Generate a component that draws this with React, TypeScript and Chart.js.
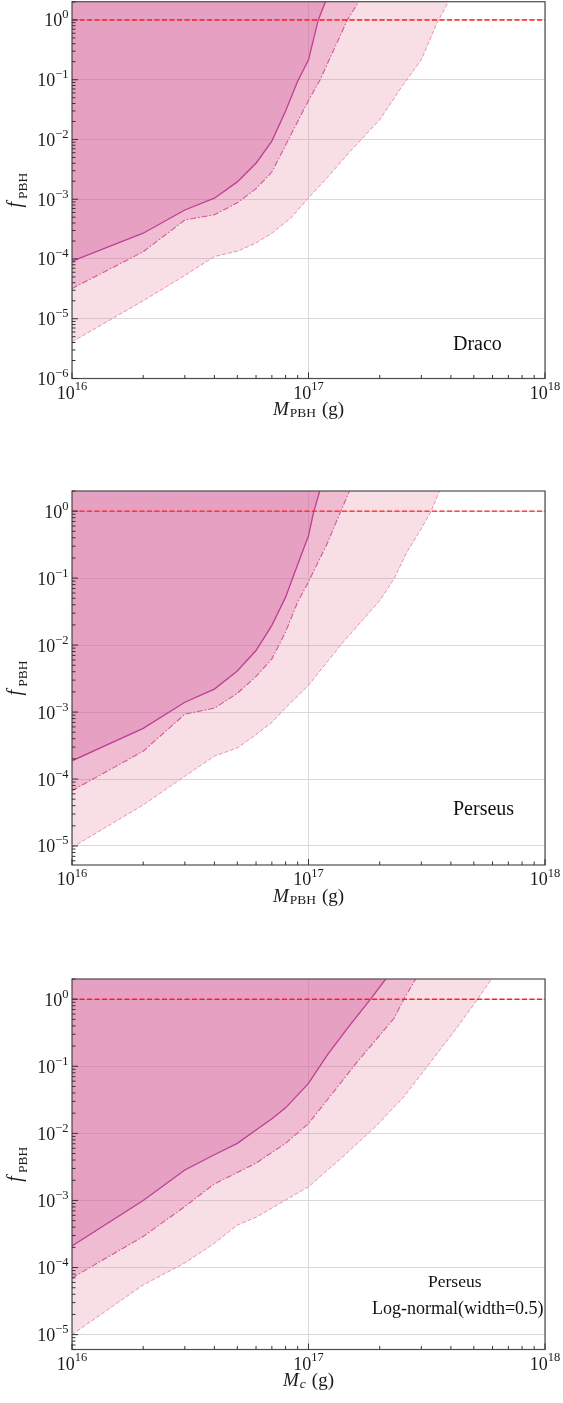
import { useEffect, useRef } from 'react';
import { Chart, registerables } from 'chart.js';

Chart.register(...registerables);

// Draco, monochromatic
const dracoSolidMass = [1e16, 2e16, 3e16, 4e16, 5e16, 6e16, 7e16, 8e16, 9e16, 1e17, 1.1e17, 1.19e17];
const dracoSolidF = [9.2e-5, 2.7e-4, 6.6e-4, 1.04e-3, 1.95e-3, 4.0e-3, 9.4e-3, 0.03, 0.094, 0.215, 1.0, 2.2];
const dracoDashDotMass = [1e16, 2e16, 3e16, 4e16, 5e16, 6e16, 7e16, 8e16, 9e16, 1e17, 1.12e17, 1.46e17, 1.64e17];
const dracoDashDotF = [3.2e-5, 1.32e-4, 4.5e-4, 5.5e-4, 8.7e-4, 1.5e-3, 2.85e-3, 8e-3, 0.02, 0.045, 0.1, 1.0, 2.1];
const dracoDashedMass = [1e16, 2e16, 3e16, 4e16, 5e16, 6e16, 7e16, 8.4e16, 1e17, 1.2e17, 1.5e17, 2e17, 2.5e17, 3e17, 3.5e17, 3.9e17];
const dracoDashedF = [4.1e-6, 2.0e-5, 5.3e-5, 1.1e-4, 1.35e-4, 1.85e-4, 2.7e-4, 4.8e-4, 1.05e-3, 2.3e-3, 6.3e-3, 0.0214, 0.08, 0.216, 0.9, 2.0];

// Perseus, monochromatic
const perseusSolidMass = [1e16, 2e16, 3e16, 4e16, 5e16, 6e16, 7e16, 8e16, 9e16, 1e17, 1.05e17, 1.12e17];
const perseusSolidF = [1.87e-4, 5.7e-4, 1.4e-3, 2.2e-3, 4.1e-3, 8.3e-3, 0.0197, 0.052, 0.16, 0.43, 0.95, 2.1];
const perseusDashDotMass = [1e16, 2e16, 3e16, 4e16, 5e16, 6e16, 7e16, 8e16, 9e16, 1e17, 1.2e17, 1.37e17, 1.49e17];
const perseusDashDotF = [6.7e-5, 2.6e-4, 9.3e-4, 1.14e-3, 1.9e-3, 3.4e-3, 6.2e-3, 0.0157, 0.044, 0.088, 0.33, 1.0, 2.0];
const perseusDashedMass = [1e16, 2e16, 3e16, 4e16, 5e16, 6e16, 7e16, 8e16, 1e17, 1.2e17, 1.4e17, 1.7e17, 2e17, 2.3e17, 2.6e17, 3e17, 3.3e17, 3.6e17];
const perseusDashedF = [9.5e-6, 4.1e-5, 1.1e-4, 2.2e-4, 2.9e-4, 4.6e-4, 7e-4, 1.15e-3, 2.5e-3, 5.6e-3, 0.011, 0.024, 0.046, 0.098, 0.24, 0.55, 1.0, 2.1];

// Perseus, log-normal mass function (width 0.5)
const lognormSolidMass = [1e16, 2e16, 3e16, 4e16, 5e16, 6e16, 7e16, 8e16, 1e17, 1.2e17, 1.46e17, 1.83e17, 2.12e17];
const lognormSolidF = [2.1e-4, 1e-3, 2.85e-3, 4.8e-3, 7.1e-3, 0.0112, 0.0165, 0.024, 0.0556, 0.147, 0.366, 1.0, 2.0];
const lognormDashDotMass = [1e16, 2e16, 3e16, 4e16, 5e16, 6e16, 8e16, 1e17, 1.28e17, 1.61e17, 1.95e17, 2.3e17, 2.53e17, 2.84e17];
const lognormDashDotF = [7e-5, 2.9e-4, 8.1e-4, 1.77e-3, 2.6e-3, 3.6e-3, 7.1e-3, 0.014, 0.042, 0.117, 0.26, 0.52, 1.0, 2.0];
const lognormDashedMass = [1e16, 2e16, 3e16, 4e16, 5e16, 6e16, 7e16, 1e17, 1.41e17, 1.95e17, 2.53e17, 3.29e17, 4.13e17, 5.19e17, 5.94e17];
const lognormDashedF = [1e-5, 5.5e-5, 1.17e-4, 2.3e-4, 4.3e-4, 5.6e-4, 7.7e-4, 1.6e-3, 4.6e-3, 0.0133, 0.035, 0.117, 0.33, 1.0, 2.0];

const unityMass = [1e16, 1e18];
const unityF = [1, 1];

const xDecades = [1e16, 1e17, 1e18];
const xExponents = ['16', '17', '18'];

const SERIF = "'Liberation Serif', 'Times New Roman', serif";

interface Note {
  text: string;
  dx: number; // from right edge of plot
  dy: number; // from bottom edge of plot
  size: number;
}

interface PanelSpec {
  top: number;
  height: number;
  pad: { top: number; bottom: number };
  yMin: number;
  yMax: number;
  yExp: number[];
  solid: [number[], number[]];
  dashDot: [number[], number[]];
  dashed: [number[], number[]];
  xSub: string;
  xSubItalic: boolean;
  notes: Note[];
}

const panels: PanelSpec[] = [
  {
    top: 0,
    height: 430,
    pad: { top: 1.7, bottom: 51.5 },
    yMin: 1e-6,
    yMax: 2.02,
    yExp: [0, -1, -2, -3, -4, -5, -6],
    solid: [dracoSolidMass, dracoSolidF],
    dashDot: [dracoDashDotMass, dracoDashDotF],
    dashed: [dracoDashedMass, dracoDashedF],
    xSub: 'PBH',
    xSubItalic: false,
    notes: [{ text: 'Draco', dx: 92, dy: 28.5, size: 20 }],
  },
  {
    top: 470,
    height: 450,
    pad: { top: 21, bottom: 55 },
    yMin: 5.2e-6,
    yMax: 2.0,
    yExp: [0, -1, -2, -3, -4, -5],
    solid: [perseusSolidMass, perseusSolidF],
    dashDot: [perseusDashDotMass, perseusDashDotF],
    dashed: [perseusDashedMass, perseusDashedF],
    xSub: 'PBH',
    xSubItalic: false,
    notes: [{ text: 'Perseus', dx: 92, dy: 50, size: 20 }],
  },
  {
    top: 960,
    height: 443,
    pad: { top: 19, bottom: 53.5 },
    yMin: 6e-6,
    yMax: 2.0,
    yExp: [0, -1, -2, -3, -4, -5],
    solid: [lognormSolidMass, lognormSolidF],
    dashDot: [lognormDashDotMass, lognormDashDotF],
    dashed: [lognormDashedMass, lognormDashedF],
    xSub: 'c',
    xSubItalic: true,
    notes: [
      { text: 'Perseus', dx: 117, dy: 63, size: 17.5 },
      { text: 'Log-normal(width=0.5)', dx: 173, dy: 35.5, size: 18 },
    ],
  },
];

const points = (mass: number[], f: number[]) => mass.map((x, i) => ({ x, y: f[i] }));

function drawPower(
  ctx: CanvasRenderingContext2D,
  exp: string,
  x: number,
  y: number,
  align: 'right' | 'center',
  raise: number,
) {
  const baseFont = `18px ${SERIF}`;
  const supFont = `12.5px ${SERIF}`;
  ctx.font = baseFont;
  const wb = ctx.measureText('10').width;
  ctx.font = supFont;
  const we = ctx.measureText(exp).width;
  const total = wb + we;
  const start = align === 'right' ? x - total : x - total / 2;
  ctx.font = baseFont;
  ctx.fillText('10', start, y);
  ctx.font = supFont;
  ctx.fillText(exp, start + wb, y - raise);
}

function makeDecor(spec: PanelSpec) {
  return {
    id: 'decor',
    afterDraw(chart: Chart) {
      const { ctx, chartArea: a } = chart;
      const xs = chart.scales.x;
      const ys = chart.scales.y;
      ctx.save();

      // frame
      ctx.strokeStyle = '#4d4d4d';
      ctx.lineWidth = 1.2;
      ctx.strokeRect(a.left, a.top, a.right - a.left, a.bottom - a.top);

      // inward ticks
      ctx.strokeStyle = '#333';
      ctx.lineWidth = 1;
      ctx.beginPath();
      const lo = Math.floor(Math.log10(spec.yMin));
      const hi = Math.ceil(Math.log10(spec.yMax));
      for (let k = lo; k <= hi; k++) {
        for (let m = 1; m <= 9; m++) {
          const v = m * Math.pow(10, k);
          if (v < spec.yMin || v > spec.yMax) continue;
          const py = ys.getPixelForValue(v);
          ctx.moveTo(a.left, py);
          ctx.lineTo(a.left + (m === 1 ? 6 : 3.5), py);
        }
      }
      for (let k = 16; k <= 18; k++) {
        for (let m = 1; m <= 9; m++) {
          const v = m * Math.pow(10, k);
          if (v > 1e18) continue;
          const px = xs.getPixelForValue(v);
          ctx.moveTo(px, a.bottom);
          ctx.lineTo(px, a.bottom - (m === 1 ? 6 : 3.5));
        }
      }
      ctx.stroke();

      // tick labels
      ctx.fillStyle = '#1a1a1a';
      ctx.textAlign = 'left';
      ctx.textBaseline = 'alphabetic';
      spec.yExp.forEach((e) => {
        const py = ys.getPixelForValue(Math.pow(10, e));
        const label = e === 0 ? '0' : `\u2212${Math.abs(e)}`;
        drawPower(ctx, label, a.left - 3.5, py + 6.5, 'right', 8);
      });
      xDecades.forEach((v, i) => {
        const px = xs.getPixelForValue(v);
        drawPower(ctx, xExponents[i], px, a.bottom + 20, 'center', 8.3);
      });

      // x title
      const mainFont = `italic 19px ${SERIF}`;
      const subFont = `${spec.xSubItalic ? 'italic ' : ''}13.5px ${SERIF}`;
      const unitFont = `19px ${SERIF}`;
      ctx.font = mainFont;
      const wM = ctx.measureText('M').width;
      ctx.font = subFont;
      const wS = ctx.measureText(spec.xSub).width;
      ctx.font = unitFont;
      const wU = ctx.measureText('(g)').width;
      const total = wM + 1 + wS + 6 + wU;
      const cx = (a.left + a.right) / 2;
      const base = a.bottom + 36.7;
      let x0 = cx - total / 2;
      ctx.font = mainFont;
      ctx.fillText('M', x0, base);
      x0 += wM + 1;
      ctx.font = subFont;
      ctx.fillText(spec.xSub, x0, base + 2);
      x0 += wS + 6;
      ctx.font = unitFont;
      ctx.fillText('(g)', x0, base);

      // y title
      const fFont = `italic 20px ${SERIF}`;
      const pFont = `13.5px ${SERIF}`;
      ctx.font = fFont;
      const wf = ctx.measureText('f').width;
      ctx.font = pFont;
      const wp = ctx.measureText('PBH').width;
      const len = wf + 3 + wp;
      ctx.save();
      ctx.translate(21, (a.top + a.bottom) / 2);
      ctx.rotate(-Math.PI / 2);
      ctx.font = fFont;
      ctx.fillText('f', -len / 2, 0);
      ctx.font = pFont;
      ctx.fillText('PBH', -len / 2 + wf + 3, 5.5);
      ctx.restore();

      // panel notes
      ctx.fillStyle = '#111';
      spec.notes.forEach((n) => {
        ctx.font = `${n.size}px ${SERIF}`;
        ctx.fillText(n.text, a.right - n.dx, a.bottom - n.dy);
      });

      ctx.restore();
    },
  };
}

function Panel({ spec }: { spec: PanelSpec }) {
  const canvasRef = useRef<HTMLCanvasElement | null>(null);

  useEffect(() => {
    if (!canvasRef.current) {
      return;
    }
    const yDecades = spec.yExp.map((e) => Math.pow(10, e));

    const chart = new Chart(canvasRef.current, {
      type: 'line',
      data: {
        datasets: [
          {
            data: points(unityMass, unityF),
            borderColor: '#ff1f1f',
            borderWidth: 1.4,
            borderDash: [5, 2.5],
            fill: false,
            pointRadius: 0,
          },
          {
            data: points(spec.solid[0], spec.solid[1]),
            borderColor: '#bf3f95',
            borderWidth: 1.3,
            backgroundColor: 'rgba(203, 95, 157, 0.3)',
            fill: 'end',
            pointRadius: 0,
          },
          {
            data: points(spec.dashDot[0], spec.dashDot[1]),
            borderColor: '#d4579b',
            borderWidth: 1.1,
            borderDash: [6, 2, 1.5, 2],
            backgroundColor: 'rgba(221, 106, 166, 0.3)',
            fill: 'end',
            pointRadius: 0,
          },
          {
            data: points(spec.dashed[0], spec.dashed[1]),
            borderColor: '#ef8fb0',
            borderWidth: 1,
            borderDash: [4, 2],
            backgroundColor: 'rgba(227, 127, 151, 0.25)',
            fill: 'end',
            pointRadius: 0,
          },
        ],
      },
      options: {
        responsive: true,
        maintainAspectRatio: false,
        animation: false,
        layout: { padding: { left: 72, right: 18, top: spec.pad.top, bottom: spec.pad.bottom } },
        elements: { line: { tension: 0 }, point: { radius: 0 } },
        plugins: { legend: { display: false }, tooltip: { enabled: false } },
        scales: {
          x: {
            type: 'logarithmic',
            min: 1e16,
            max: 1e18,
            afterBuildTicks: (scale) => {
              scale.ticks = xDecades.map((value) => ({ value }));
            },
            ticks: { display: false },
            grid: { color: '#d9d9d9', lineWidth: 1, drawTicks: false },
            border: { display: false },
          },
          y: {
            type: 'logarithmic',
            min: spec.yMin,
            max: spec.yMax,
            afterBuildTicks: (scale) => {
              scale.ticks = yDecades.map((value) => ({ value }));
            },
            ticks: { display: false },
            grid: { color: '#d9d9d9', lineWidth: 1, drawTicks: false },
            border: { display: false },
          },
        },
      },
      plugins: [makeDecor(spec)],
    });

    return () => {
      chart.destroy();
    };
  }, [spec]);

  return (
    <div style={{ position: 'absolute', left: 0, top: spec.top, width: 563, height: spec.height }}>
      <canvas ref={canvasRef} />
    </div>
  );
}

export default function App() {
  return (
    <div
      style={{
        position: 'absolute',
        left: 0,
        top: 0,
        width: 563,
        height: 1403,
        overflow: 'hidden',
        background: '#ffffff',
      }}
    >
      {panels.map((spec, i) => (
        <Panel key={i} spec={spec} />
      ))}
    </div>
  );
}
